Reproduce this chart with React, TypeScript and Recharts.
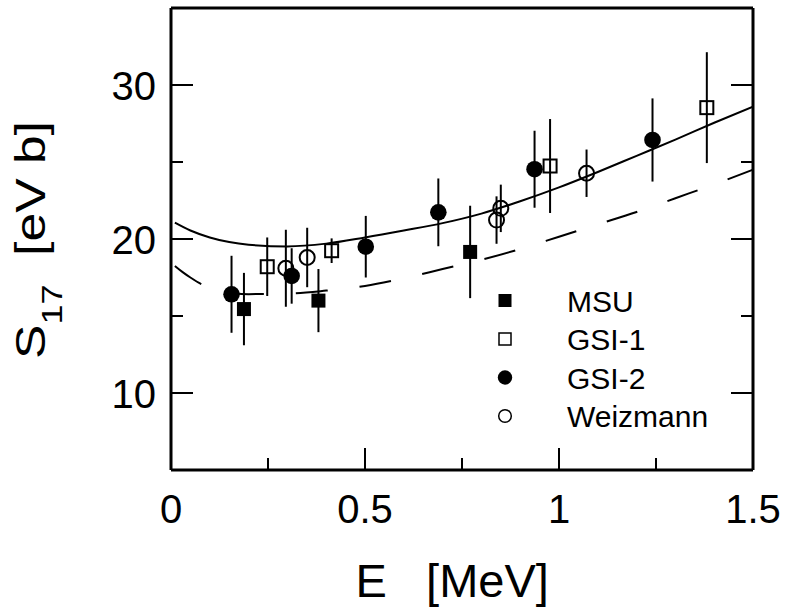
import React from 'react';
import { ComposedChart, Line, Scatter, ErrorBar, XAxis, YAxis, Legend, Label } from 'recharts';

const FONT = '"Liberation Sans", Arial, Helvetica, sans-serif';

// MSU (filled squares)
const msuE = [0.188, 0.38, 0.771];
const msuS = [15.45, 16.0, 19.16];
const msuErr = [2.35, 2.05, 3.0];

// GSI-1 (open squares)
const gsi1E = [0.248, 0.414, 0.977, 1.381];
const gsi1S = [18.2, 19.24, 24.74, 28.53];
const gsi1Err = [1.9, 0.8, 3.05, 3.6];

// GSI-2 (filled circles)
const gsi2E = [0.156, 0.311, 0.502, 0.689, 0.937, 1.241];
const gsi2S = [16.41, 17.6, 19.5, 21.73, 24.53, 26.43];
const gsi2Err = [2.5, 1.8, 2.0, 2.2, 2.5, 2.7];

// Weizmann (open circles)
const weizE = [0.296, 0.351, 0.839, 0.85, 1.071];
const weizS = [18.1, 18.8, 21.23, 21.99, 24.27];
const weizErr = [2.5, 1.93, 1.54, 1.54, 1.54];

// theory curves
const solidE = [0.01, 0.05, 0.1, 0.15, 0.2, 0.3, 0.4, 0.5, 0.6, 0.7, 0.8, 0.9, 1.0, 1.1, 1.2, 1.3, 1.4, 1.5];
const solidS = [21.06, 20.55, 20.1, 19.8, 19.63, 19.52, 19.7, 20.1, 20.55, 21.03, 21.65, 22.45, 23.35, 24.35, 25.4, 26.45, 27.55, 28.6];
const dashE = [0.01, 0.03, 0.05, 0.08, 0.12, 0.16, 0.2, 0.3, 0.4, 0.5, 0.6, 0.7, 0.8, 0.9, 1.0, 1.1, 1.2, 1.3, 1.4, 1.5];
const dashS = [18.25, 17.85, 17.5, 17.05, 16.7, 16.5, 16.42, 16.45, 16.65, 16.95, 17.45, 18.05, 18.65, 19.35, 20.15, 20.95, 21.75, 22.65, 23.55, 24.5];

const xTicks = [0, 0.25, 0.5, 0.75, 1, 1.25, 1.5];
const xLabeled = [0, 0.5, 1, 1.5];
const yTicks = [10, 15, 20, 25, 30];
const yLabeled = [10, 20, 30];

const legendNames = ['MSU', 'GSI-1', 'GSI-2', 'Weizmann'];

const pts = (e: number[], s: number[], err: number[]) => e.map((E, i) => ({ E, S: s[i], err: err[i] }));
const curve = (e: number[], s: number[]) => e.map((E, i) => ({ E, S: s[i] }));

const msuData = pts(msuE, msuS, msuErr);
const gsi1Data = pts(gsi1E, gsi1S, gsi1Err);
const gsi2Data = pts(gsi2E, gsi2S, gsi2Err);
const weizData = pts(weizE, weizS, weizErr);
const solidData = curve(solidE, solidS);
const dashData = curve(dashE, dashS);

const MAJOR = 22;
const MINOR = 12;

// tick marks point into the frame on all four sides
const BottomTick = (p: any) => {
  const major = xLabeled.includes(p.payload.value);
  return (
    <g>
      <line x1={p.x} y1={p.y} x2={p.x} y2={p.y - (major ? MAJOR : MINOR)} stroke="#000" strokeWidth={2} />
      {major && (
        <text x={p.x} y={p.y + 53} textAnchor="middle" fontSize={40} fontFamily={FONT} fill="#000">
          {String(p.payload.value)}
        </text>
      )}
    </g>
  );
};
const TopTick = (p: any) => {
  const major = xLabeled.includes(p.payload.value);
  return <line x1={p.x} y1={p.y} x2={p.x} y2={p.y + (major ? MAJOR : MINOR)} stroke="#000" strokeWidth={2} />;
};
const LeftTick = (p: any) => {
  const major = yLabeled.includes(p.payload.value);
  return (
    <g>
      <line x1={p.x} y1={p.y} x2={p.x + (major ? MAJOR : MINOR)} y2={p.y} stroke="#000" strokeWidth={2} />
      {major && (
        <text x={p.x - 15} y={p.y + 14.5} textAnchor="end" fontSize={40} fontFamily={FONT} fill="#000">
          {String(p.payload.value)}
        </text>
      )}
    </g>
  );
};
const RightTick = (p: any) => {
  const major = yLabeled.includes(p.payload.value);
  return <line x1={p.x} y1={p.y} x2={p.x - (major ? MAJOR : MINOR)} y2={p.y} stroke="#000" strokeWidth={2} />;
};

const FilledSquare = (p: any) => <rect x={p.cx - 7} y={p.cy - 7} width={14} height={14} fill="#000" />;
const OpenSquare = (p: any) => (
  <rect x={p.cx - 6.5} y={p.cy - 6.5} width={13} height={13} fill="none" stroke="#000" strokeWidth={2} />
);
const FilledCircle = (p: any) => <circle cx={p.cx} cy={p.cy} r={8.3} fill="#000" />;
const OpenCircle = (p: any) => <circle cx={p.cx} cy={p.cy} r={7.5} fill="none" stroke="#000" strokeWidth={2} />;

const LegendBox = () => (
  <svg width={240} height={160} style={{ display: 'block' }}>
    {legendNames.map((name, i) => {
      const cy = 18.5 + 38.5 * i;
      const cx = 15;
      let mark;
      if (i === 0) mark = <rect x={cx - 6.5} y={cy - 6.5} width={13} height={13} fill="#000" />;
      else if (i === 1) mark = <rect x={cx - 6} y={cy - 6} width={12} height={12} fill="none" stroke="#000" strokeWidth={1.5} />;
      else if (i === 2) mark = <circle cx={cx} cy={cy} r={7.2} fill="#000" />;
      else mark = <circle cx={cx} cy={cy} r={6.3} fill="none" stroke="#000" strokeWidth={1.5} />;
      return (
        <g key={name}>
          {mark}
          <text x={77} y={cy + 11} fontSize={30} fontFamily={FONT} fill="#000">{name}</text>
        </g>
      );
    })}
  </svg>
);

const XTitle = () => (
  <text x={355.6} y={597} fontSize={47} fontFamily={FONT} fill="#000" style={{ whiteSpace: 'pre' }}>
    {'E   [MeV]'}
  </text>
);
// the vertical title is drawn a little stretched along its length, as in the original
const YTitle = () => (
  <text transform="translate(45,359) rotate(-90) scale(1.2,1)" fontSize={43} fontFamily={FONT} fill="#000" style={{ whiteSpace: 'pre' }}>
    <tspan>S</tspan>
    <tspan fontSize={30} dy={17}>17</tspan>
    <tspan dy={-17}>{'  [eV b]'}</tspan>
  </text>
);

const axisLine = { stroke: '#000', strokeWidth: 3 };

export default function App() {
  return (
    <div style={{ position: 'absolute', left: 0, top: 0, background: '#fff' }}>
      <ComposedChart width={787} height={609} margin={{ top: 7, right: 33, bottom: 138, left: 170 }}>
        <XAxis
          dataKey="E"
          type="number"
          domain={[0, 1.5]}
          allowDataOverflow
          ticks={xTicks}
          interval={0}
          height={1}
          tickSize={0}
          tickMargin={0}
          tickLine={false}
          axisLine={axisLine}
          tick={<BottomTick />}
        >
          <Label content={<XTitle />} />
        </XAxis>
        <XAxis
          xAxisId="top"
          orientation="top"
          type="number"
          domain={[0, 1.5]}
          allowDataOverflow
          ticks={xTicks}
          interval={0}
          height={1}
          tickSize={0}
          tickMargin={0}
          tickLine={false}
          axisLine={axisLine}
          tick={<TopTick />}
        />
        <YAxis
          dataKey="S"
          type="number"
          domain={[5, 35]}
          allowDataOverflow
          ticks={yTicks}
          interval={0}
          width={1}
          tickSize={0}
          tickMargin={0}
          tickLine={false}
          axisLine={axisLine}
          tick={<LeftTick />}
        >
          <Label content={<YTitle />} />
        </YAxis>
        <YAxis
          yAxisId="right"
          orientation="right"
          type="number"
          domain={[5, 35]}
          allowDataOverflow
          ticks={yTicks}
          interval={0}
          width={1}
          tickSize={0}
          tickMargin={0}
          tickLine={false}
          axisLine={axisLine}
          tick={<RightTick />}
        />
        <Line data={solidData} dataKey="S" type="monotone" stroke="#000" strokeWidth={2} dot={false} isAnimationActive={false} />
        <Line data={dashData} dataKey="S" type="monotone" stroke="#000" strokeWidth={2} strokeDasharray="32 32" dot={false} isAnimationActive={false} />
        <Scatter name="MSU" data={msuData} dataKey="S" shape={FilledSquare} isAnimationActive={false}>
          <ErrorBar dataKey="err" direction="y" width={0} stroke="#000" strokeWidth={2} isAnimationActive={false} />
        </Scatter>
        <Scatter name="GSI-1" data={gsi1Data} dataKey="S" shape={OpenSquare} isAnimationActive={false}>
          <ErrorBar dataKey="err" direction="y" width={0} stroke="#000" strokeWidth={2} isAnimationActive={false} />
        </Scatter>
        <Scatter name="GSI-2" data={gsi2Data} dataKey="S" shape={FilledCircle} isAnimationActive={false}>
          <ErrorBar dataKey="err" direction="y" width={0} stroke="#000" strokeWidth={2} isAnimationActive={false} />
        </Scatter>
        <Scatter name="Weizmann" data={weizData} dataKey="S" shape={OpenCircle} isAnimationActive={false}>
          <ErrorBar dataKey="err" direction="y" width={0} stroke="#000" strokeWidth={2} isAnimationActive={false} />
        </Scatter>
        <Legend
          layout="vertical"
          align="center"
          verticalAlign="middle"
          wrapperStyle={{ top: 282, left: 490, width: 240, height: 160 }}
          content={() => <LegendBox />}
        />
      </ComposedChart>
    </div>
  );
}
